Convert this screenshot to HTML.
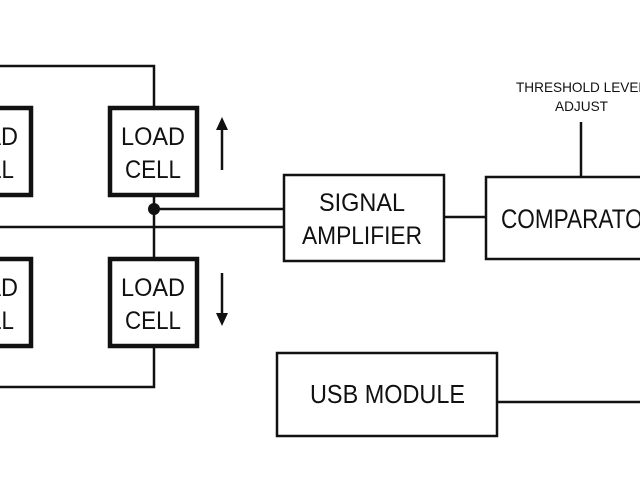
<!DOCTYPE html>
<html><head><meta charset="utf-8"><style>body{margin:0;background:#fff}svg{display:block}</style></head><body>
<svg width="640" height="480" viewBox="0 0 640 480" xmlns="http://www.w3.org/2000/svg" font-family="Liberation Sans, sans-serif" fill="#111">
<g fill="none" stroke="#111" stroke-width="2.5">
<polyline points="0,66 154,66 154,107"/>
<polyline points="154,197 154,257"/>
<polyline points="154,348 154,387 0,387"/>
<line x1="154" y1="209" x2="284" y2="209"/>
<line x1="0" y1="227" x2="284" y2="227"/>
<rect x="284" y="175" width="160" height="86"/>
<line x1="445" y1="217" x2="486" y2="217"/>
<rect x="486" y="177" width="170" height="82"/>
<line x1="581" y1="122" x2="581" y2="177"/>
<rect x="277" y="353" width="220" height="83"/>
<line x1="498" y1="402" x2="640" y2="402"/>
<line x1="222" y1="170" x2="222" y2="125"/>
<line x1="222" y1="273" x2="222" y2="318"/>
</g>
<g fill="none" stroke="#111" stroke-width="4.5">
<rect x="110" y="108" width="87" height="87"/>
<rect x="110" y="259" width="87" height="87"/>
<rect x="-60" y="108" width="91" height="87"/>
<rect x="-60" y="259" width="91" height="87"/>
</g>
<circle cx="154" cy="209" r="6"/>
<polygon points="222,117 216,130 228,130"/>
<polygon points="222,326 216,313 228,313"/>
<g font-size="25" text-anchor="middle" lengthAdjust="spacingAndGlyphs">
<text x="153" y="145" textLength="64" lengthAdjust="spacingAndGlyphs">LOAD</text>
<text x="153" y="178" textLength="56" lengthAdjust="spacingAndGlyphs">CELL</text>
<text x="153" y="296" textLength="64" lengthAdjust="spacingAndGlyphs">LOAD</text>
<text x="153" y="329" textLength="56" lengthAdjust="spacingAndGlyphs">CELL</text>
<text x="-14" y="145" textLength="64" lengthAdjust="spacingAndGlyphs">LOAD</text>
<text x="-14" y="178" textLength="56" lengthAdjust="spacingAndGlyphs">CELL</text>
<text x="-14" y="296" textLength="64" lengthAdjust="spacingAndGlyphs">LOAD</text>
<text x="-14" y="329" textLength="56" lengthAdjust="spacingAndGlyphs">CELL</text>
</g>
<g font-size="25">
<text x="319" y="211" textLength="86" lengthAdjust="spacingAndGlyphs">SIGNAL</text>
<text x="302" y="244" textLength="120" lengthAdjust="spacingAndGlyphs">AMPLIFIER</text>
<text x="501" y="228" font-size="27" textLength="158" lengthAdjust="spacingAndGlyphs">COMPARATOR</text>
<text x="310" y="403" font-size="26" textLength="155" lengthAdjust="spacingAndGlyphs">USB MODULE</text>
<text x="516" y="92" font-size="14" textLength="130" lengthAdjust="spacingAndGlyphs">THRESHOLD LEVEL</text>
<text x="555" y="111" font-size="14" textLength="53" lengthAdjust="spacingAndGlyphs">ADJUST</text>
</g>
</svg>
</body></html>
